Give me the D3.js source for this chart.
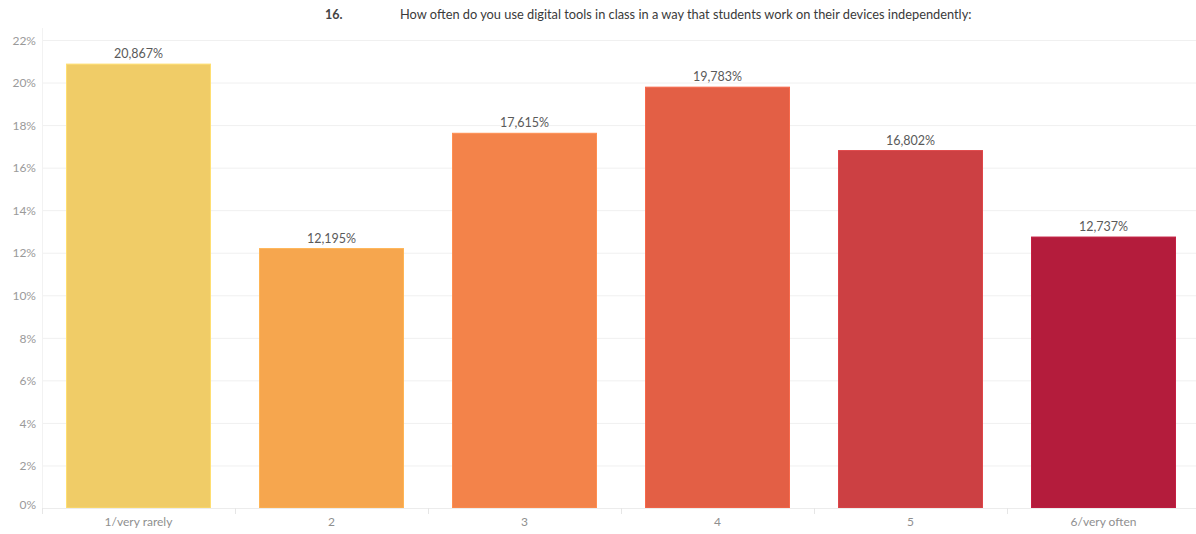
<!DOCTYPE html>
<html>
<head>
<meta charset="utf-8">
<script src="https://cdn.jsdelivr.net/npm/d3@7"></script>
<style>
  html, body { margin: 0; padding: 0; background: #fff; }
  svg { display: block; font-family: Lato, "Open Sans", sans-serif; }
</style>
</head>
<body>
<svg id="chart" width="1196" height="534"></svg>
<script>
// Survey question and answer shares
const questionNumber = "16.";
const questionText = "How often do you use digital tools in class in a way that students work on their devices independently:";
const categories = ["1/very rarely", "2", "3", "4", "5", "6/very often"];
const shares = [20.867, 12.195, 17.615, 19.783, 16.802, 12.737];
const barColors = ["#F0CC67", "#F6A64E", "#F3834A", "#E35F45", "#CC4043", "#B41C3C"];
const yTicks = [0, 2, 4, 6, 8, 10, 12, 14, 16, 18, 20, 22];

const svg = d3.select("#chart");
const plotLeft = 42, plotRight = 1200, plotTop = 40, plotBottom = 508;

const x = d3.scaleBand()
  .domain(categories)
  .range([plotLeft, plotRight])
  .paddingInner(0.254)
  .paddingOuter(0.127);

const y = d3.scaleLinear().domain([0, 22]).range([plotBottom, plotTop]);

// Horizontal gridlines
svg.append("g")
  .selectAll("line")
  .data(yTicks)
  .join("line")
  .attr("x1", plotLeft).attr("x2", 1196)
  .attr("y1", d => y(d) + 0.5).attr("y2", d => y(d) + 0.5)
  .attr("stroke", "#f0f0f0").attr("stroke-width", 1);

// Left axis rule
svg.append("line")
  .attr("x1", plotLeft + 0.5).attr("x2", plotLeft + 0.5)
  .attr("y1", 28).attr("y2", plotBottom)
  .attr("stroke", "#f2f2f2");

// Y-axis labels
const yAxis = d3.axisLeft(y)
  .tickValues(yTicks)
  .tickSize(0)
  .tickPadding(6)
  .tickFormat(d => d + "%");
const gy = svg.append("g").attr("transform", `translate(${plotLeft},0)`).call(yAxis);
gy.select(".domain").remove();
gy.selectAll("text")
  .attr("fill", "#9a9a9a")
  .attr("font-size", 12)
  .attr("dy", (d) => d === 0 ? "0" : "0.35em")
  .style("font-family", "Lato, 'Open Sans', sans-serif");

// Bars
svg.append("g")
  .selectAll("rect")
  .data(categories)
  .join("rect")
  .attr("x", d => x(d))
  .attr("width", x.bandwidth())
  .attr("y", (d, i) => y(shares[i]))
  .attr("height", (d, i) => y(0) - y(shares[i]))
  .attr("fill", (d, i) => barColors[i])
  .attr("stroke", (d, i) => d3.color(barColors[i]).brighter(0.25))
  .attr("stroke-width", 1);

// Value labels
svg.append("g")
  .selectAll("text")
  .data(categories)
  .join("text")
  .attr("x", d => x(d) + x.bandwidth() / 2)
  .attr("y", (d, i) => y(shares[i]) - 6)
  .attr("text-anchor", "middle")
  .attr("font-size", 12.5)
  .attr("fill", "#5a5a5a")
  .text((d, i) => d3.format(".3f")(shares[i]).replace(".", ",") + "%");

// X-axis baseline and category separators
svg.append("line")
  .attr("x1", plotLeft).attr("x2", 1196)
  .attr("y1", plotBottom + 0.5).attr("y2", plotBottom + 0.5)
  .attr("stroke", "#ececec");

const step = x.step();
svg.append("g")
  .selectAll("line")
  .data(d3.range(categories.length))
  .join("line")
  .attr("x1", i => plotLeft + i * step + 0.5)
  .attr("x2", i => plotLeft + i * step + 0.5)
  .attr("y1", plotBottom).attr("y2", plotBottom + 6)
  .attr("stroke", "#e6e6e6");

// Category labels
svg.append("g")
  .selectAll("text")
  .data(categories)
  .join("text")
  .attr("x", d => x(d) + x.bandwidth() / 2)
  .attr("y", 526)
  .attr("text-anchor", "middle")
  .attr("font-size", 12)
  .attr("fill", "#8f8f8f")
  .text(d => d);

// Title
svg.append("text")
  .attr("x", 325).attr("y", 19)
  .attr("font-size", 12.5)
  .attr("font-weight", 700)
  .attr("fill", "#444")
  .text(questionNumber);
svg.append("text")
  .attr("x", 400).attr("y", 19)
  .attr("font-size", 12.8)
  .attr("fill", "#3a3a3a")
  .text(questionText);
</script>
</body>
</html>
